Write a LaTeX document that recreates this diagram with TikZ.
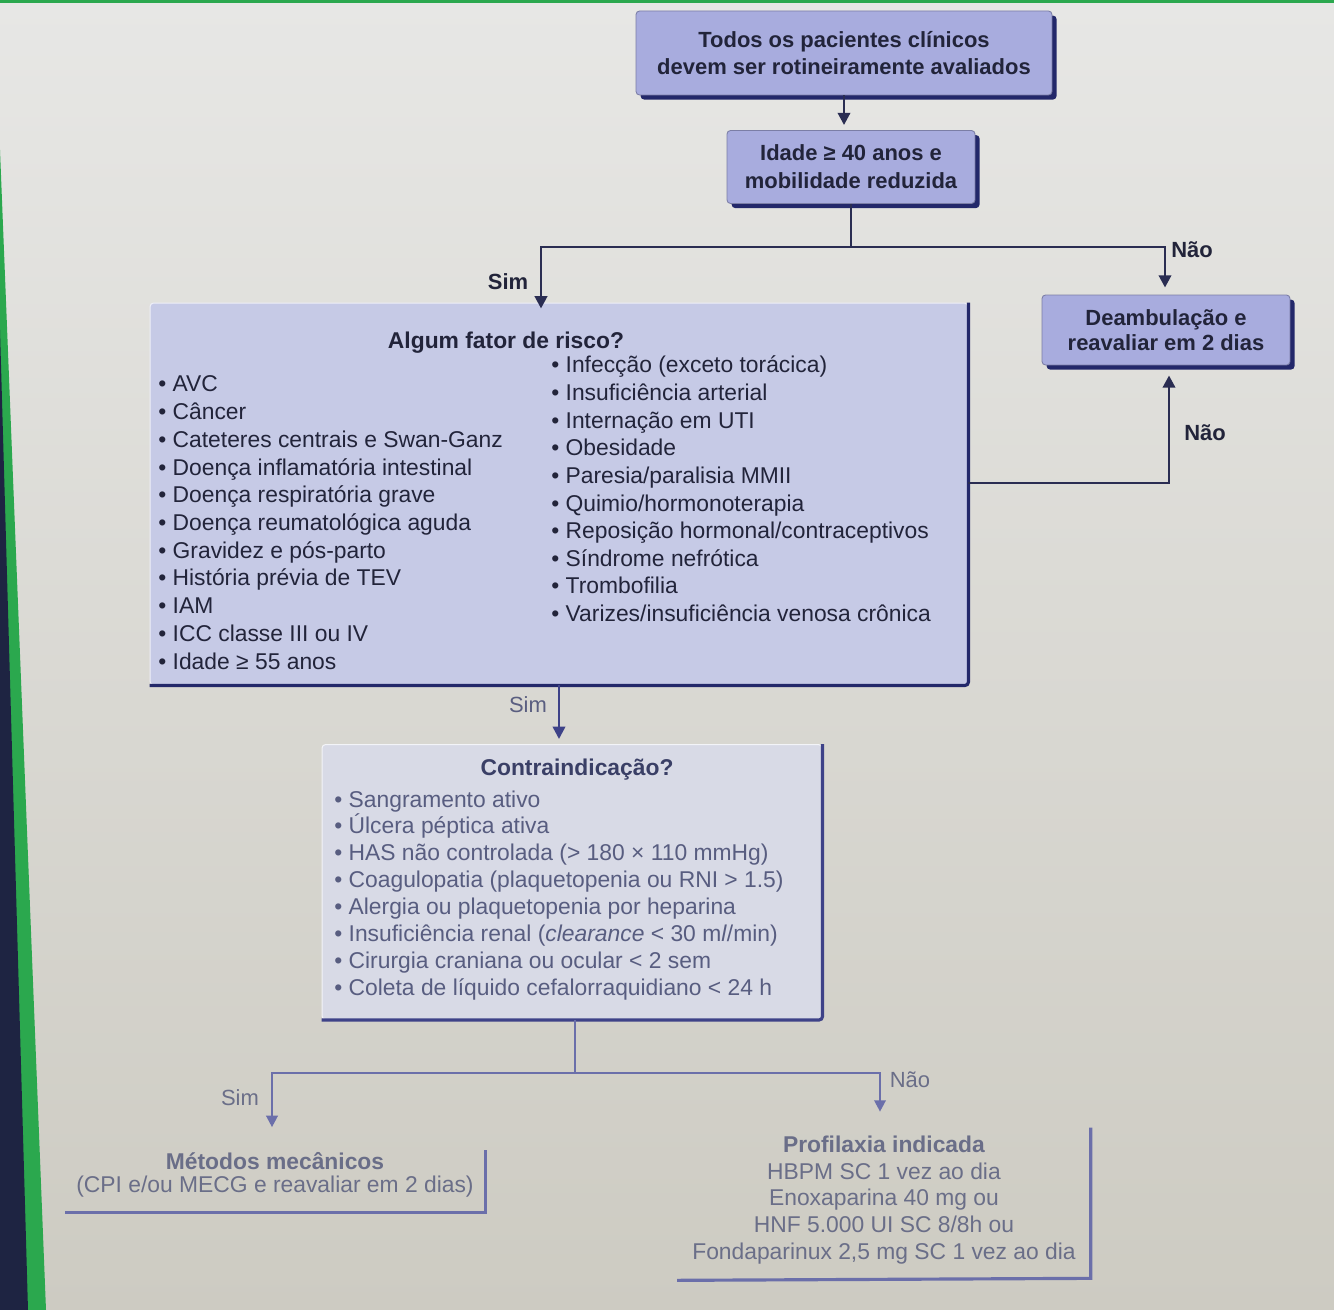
\documentclass[tikz,border=0pt]{standalone}
\usepackage{fontspec}
\setmainfont{Liberation Sans}
\usetikzlibrary{arrows.meta,calc,shadows}
\definecolor{bgtop}{HTML}{E7E7E5}
\definecolor{bgbot}{HTML}{CDCBC2}
\definecolor{bezel}{HTML}{2BA84E}
\definecolor{bezeldark}{HTML}{1E2442}
\definecolor{navy}{HTML}{23286A}
\definecolor{boxA}{HTML}{A8ACDE}
\definecolor{boxB}{HTML}{C6CAE6}
\definecolor{boxC}{HTML}{D8DAE6}
\definecolor{ink}{HTML}{22243A}
\definecolor{inkC}{HTML}{585D80}
\definecolor{inkD}{HTML}{6A6E88}
\definecolor{inkT}{HTML}{3A3F66}
\definecolor{inkS}{HTML}{5A5E80}
\definecolor{lineA}{HTML}{2A2D52}
\definecolor{lineB}{HTML}{3E4288}
\definecolor{lineC}{HTML}{6B6FAA}
\begin{document}
\begin{tikzpicture}[x=0.02cm,y=-0.02cm,
  bigbox/.style={rectangle, rounded corners=2pt, fill=boxA, draw=navy!60, line width=0.5pt,
    font=\bfseries\fontsize{12.5}{15}\selectfont, text=ink, align=center, inner sep=0pt,
    drop shadow={shadow xshift=2.6pt, shadow yshift=-2.6pt, fill=navy, opacity=1}},
  item/.style={font=\fontsize{13}{15}\selectfont, text=ink, inner sep=0pt, anchor=base west},
  itemC/.style={item, text=inkC},
  ttl/.style={font=\bfseries\fontsize{13}{15}\selectfont, text=ink, inner sep=0pt},
  lblA/.style={font=\bfseries\fontsize{12.5}{15}\selectfont, text=ink, inner sep=0pt},
  lblB/.style={font=\fontsize{12.5}{15}\selectfont, text=inkD, inner sep=0pt},
  conA/.style={draw=lineA, line width=1.6pt},
  arrA/.style={conA, -{Triangle[width=7pt,length=7pt]}},
  conB/.style={draw=lineB, line width=1.4pt},
  arrB/.style={conB, -{Triangle[width=7pt,length=7pt]}},
  conC/.style={draw=lineC, line width=1.3pt},
  arrC/.style={conC, -{Triangle[width=6.5pt,length=6.5pt]}},
  edgeln/.style={draw=lineC, line width=1.8pt}
]
% background (photographed screen)
\shade[top color=bgtop, bottom color=bgbot] (0,0) rectangle (1334,1310);
\useasboundingbox (0,0) rectangle (1334,1310);
\fill[bezel] (0,150) -- (46,1310) -- (0,1310) -- cycle;
\fill[bezeldark] (0,330) -- (28,1310) -- (0,1310) -- cycle;
\fill[bezel] (0,0) rectangle (1334,3);

% main boxes
\node[bigbox, minimum width=8.32cm, minimum height=1.68cm] (top) at (844,53)
  {Todos os pacientes clínicos\\devem ser rotineiramente avaliados};
\node[bigbox, font=\bfseries\fontsize{12.5}{16}\selectfont, minimum width=4.96cm, minimum height=1.46cm] (idade) at (851,167)
  {Idade ≥ 40 anos e\\mobilidade reduzida};
\node[bigbox, font=\bfseries\fontsize{12.5}{14.5}\selectfont, minimum width=4.96cm, minimum height=1.4cm] (deamb) at (1166,330)
  {Deambulação e\\reavaliar em 2 dias};

% risk box
\node[rectangle, rounded corners=2pt, fill=boxB, draw=white!70!boxB, line width=0.6pt,
  minimum width=16.36cm, minimum height=7.64cm, inner sep=0pt] (risk) at (559,494) {};
\draw[navy, line width=1.8pt, rounded corners=2pt] (risk.north east) -- (risk.south east) -- (risk.south west);
\node[ttl] (rtitle) at (506,343) {Algum fator de risco?};
\foreach \t [count=\i from 0] in {{AVC},{Câncer},{Cateteres centrais e Swan-Ganz},{Doença inflamatória intestinal},
  {Doença respiratória grave},{Doença reumatológica aguda},{Gravidez e pós-parto},{História prévia de TEV},
  {IAM},{ICC classe III ou IV},{Idade ≥ 55 anos}}
  \node[item] (rl\i) at ({158},{392+27.7*\i}) {• \t};
\foreach \t [count=\i from 0] in {{Infecção (exceto torácica)},{Insuficiência arterial},{Internação em UTI},
  {Obesidade},{Paresia/paralisia MMII},{Quimio/hormonoterapia},{Reposição hormonal/contraceptivos},
  {Síndrome nefrótica},{Trombofilia},{Varizes/insuficiência venosa crônica}}
  \node[item] (rr\i) at ({551},{373+27.6*\i}) {• \t};

% contraindication box
\node[rectangle, rounded corners=2pt, fill=boxC, draw=white!70!boxC, line width=0.6pt,
  minimum width=10cm, minimum height=5.5cm, inner sep=0pt] (contra) at (572,882) {};
\draw[lineB, line width=1.8pt, rounded corners=2pt] (contra.north east) -- (contra.south east) -- (contra.south west);
\node[ttl, text=inkT] (ctitle) at (577,770) {Contraindicação?};
\foreach \t [count=\i from 0] in {{Sangramento ativo},{Úlcera péptica ativa},{HAS não controlada (> 180 × 110 mmHg)},
  {Coagulopatia (plaquetopenia ou RNI > 1.5)},{Alergia ou plaquetopenia por heparina},
  {Insuficiência renal (\textit{clearance} < 30 m\textit{l}/min)},{Cirurgia craniana ou ocular < 2 sem},
  {Coleta de líquido cefalorraquidiano < 24 h}}
  \node[itemC] (cc\i) at ({334},{807+26.9*\i}) {• \t};

% outcome boxes
\node[rectangle, minimum width=8.4cm, minimum height=1.5cm, inner sep=0pt, align=center,
  font=\fontsize{13}{13}\selectfont, text=inkD] (metodos) at (275,1175)
  {\textbf{Métodos mecânicos}\\(CPI e/ou MECG e reavaliar em 2 dias)};
\draw[edgeln] ([yshift=-0.26cm]metodos.north east) -- (metodos.south east) -- (metodos.south west);
\node[rectangle, minimum width=8.26cm, minimum height=3.12cm, inner sep=0pt, align=center,
  font=\fontsize{13}{15.2}\selectfont, text=inkD] (profil) at (884,1200)
  {\textbf{Profilaxia indicada}\\HBPM SC 1 vez ao dia\\Enoxaparina 40 mg ou\\HNF 5.000 UI SC 8/8h ou\\Fondaparinux 2,5 mg SC 1 vez ao dia};
\draw[edgeln] ([yshift=-0.12cm]profil.north east) -- (profil.south east) -- ([yshift=-0.04cm]profil.south west);

% connectors
\coordinate (jL) at (541,247);
\coordinate (jR) at (1165,247);
\draw[conA] (idade.south) -- (idade.south |- jL);
\draw[arrA] (idade.south |- jL) -| ([yshift=-0.12cm]jL |- risk.north);
\draw[arrA, shorten >=0.14cm] (idade.south |- jL) -| (jR |- deamb.north);
\draw[arrA, shorten >=0.2cm] ([yshift=0.22cm]risk.east) -| ([xshift=0.06cm]deamb.south);
\draw[arrA] (top.south) -- ([yshift=0.1cm]top.south |- idade.north);
\draw[arrB, shorten >=0.1cm] (risk.south) -- (risk.south |- contra.north);
\coordinate (sL) at (272,1073);
\coordinate (sR) at (880,1073);
\draw[conC] ([xshift=0.06cm]contra.south) -- ([xshift=0.06cm]contra.south |- sL);
\draw[arrC, shorten >=0.2cm] ([xshift=0.06cm]contra.south |- sL) -| (sL |- metodos.north);
\draw[arrC, shorten >=0.2cm] ([xshift=0.06cm]contra.south |- sL) -| (sR |- profil.north);

% labels
\node[lblA] (lsim1) at (508,282) {Sim};
\node[lblA] (lnao1) at (1192,250) {Não};
\node[lblA] (lnao2) at (1205,433) {Não};
\node[lblB, text=inkS] (lsim2) at (528,705) {Sim};
\node[lblB] (lsim3) at (240,1098) {Sim};
\node[lblB] (lnao3) at (910,1080) {Não};
\end{tikzpicture}
\end{document}
